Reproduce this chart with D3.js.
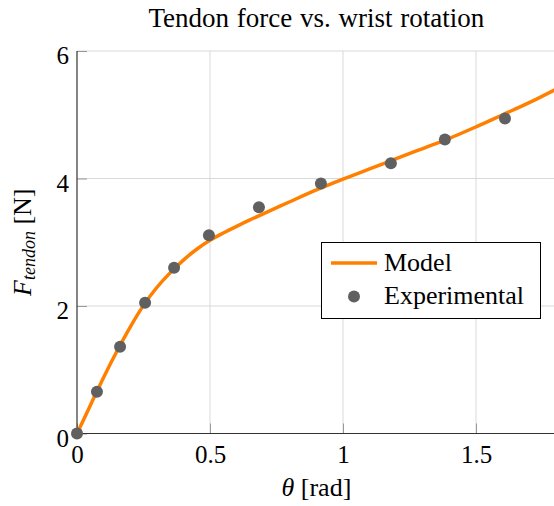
<!DOCTYPE html>
<html>
<head>
<meta charset="utf-8">
<script src="https://cdn.jsdelivr.net/npm/d3@7"></script>
<style>
  body { margin: 0; background: #fff; }
  text { font-family: "Liberation Serif", "Times New Roman", serif; fill: #000; }
</style>
</head>
<body>
<script>
// données
const modelTheta = [0, 0.05, 0.1, 0.15, 0.2, 0.25, 0.3, 0.35, 0.4, 0.45, 0.5, 0.55, 0.6, 0.65, 0.7, 0.8, 0.9, 1.0, 1.1, 1.2, 1.3, 1.4, 1.5, 1.6, 1.7, 1.8];
const modelForce = [0, 0.44, 0.88, 1.29, 1.67, 2.01, 2.29, 2.52, 2.72, 2.89, 3.03, 3.145, 3.25, 3.35, 3.445, 3.635, 3.82, 3.99, 4.15, 4.31, 4.47, 4.63, 4.81, 5.0, 5.19, 5.4];

const expTheta = [0, 0.075, 0.162, 0.256, 0.365, 0.496, 0.684, 0.917, 1.18, 1.383, 1.609];
const expForce = [0, 0.656, 1.36, 2.05, 2.6, 3.11, 3.55, 3.92, 4.24, 4.61, 4.94];

const xTicks = [0, 0.5, 1, 1.5];
const xTickLabels = ["0", "0.5", "1", "1.5"];
const yTicks = [0, 2, 4, 6];

const width = 554, height = 506;
const mLeft = 77, mRight = 555.8, mTop = 51, mBottom = 433.5;
const serif = '"Liberation Serif", "Times New Roman", serif';

let svg = d3.select('body').append('svg')
    .attr("width", width)
    .attr("height", height)

let x = d3.scaleLinear().domain([0, 1.8]).range([mLeft, mRight]);
let y = d3.scaleLinear().domain([0, 6]).range([mBottom, mTop]);

// grille
svg.append('g').selectAll('line')
    .data(xTicks.filter(d => d > 0))
    .enter().append('line')
    .attr("x1", d => x(d)).attr("x2", d => x(d))
    .attr("y1", mTop).attr("y2", mBottom)
    .attr("stroke", "#d9d9d9").attr("stroke-width", 1)

svg.append('g').selectAll('line')
    .data(yTicks.filter(d => d > 0))
    .enter().append('line')
    .attr("x1", mLeft).attr("x2", width)
    .attr("y1", d => y(d)).attr("y2", d => y(d))
    .attr("stroke", "#d9d9d9").attr("stroke-width", 1)

// axes (ticks vers l'intérieur)
let xAxis = d3.axisBottom(x).tickValues(xTicks).tickSize(-10).tickFormat((d, i) => xTickLabels[i]).tickPadding(12);
let gx = svg.append('g')
    .attr("transform", "translate(0," + mBottom + ")")
    .call(xAxis)
gx.select('.domain').remove();
gx.selectAll('.tick line').attr("stroke", "#999");
gx.selectAll('.tick text')
    .style("font-size", "25px")
    .style("font-family", serif)
    .attr("fill", "#000")

let yAxis = d3.axisLeft(y).tickValues(yTicks).tickSize(-10).tickPadding(8).tickFormat(d3.format("d"));
let gy = svg.append('g')
    .attr("transform", "translate(" + mLeft + ",0)")
    .call(yAxis)
gy.select('.domain').remove();
gy.selectAll('.tick line').attr("stroke", "#999");
gy.selectAll('.tick text')
    .style("font-size", "25px")
    .style("font-family", serif)
    .attr("fill", "#000")
    .attr("dy", "0.5em")

svg.append('line')
    .attr("x1", mLeft).attr("x2", width)
    .attr("y1", mBottom).attr("y2", mBottom)
    .attr("stroke", "#333").attr("stroke-width", 1.2)
svg.append('line')
    .attr("x1", mLeft).attr("x2", mLeft)
    .attr("y1", mTop).attr("y2", mBottom)
    .attr("stroke", "#333").attr("stroke-width", 1.2)

// courbe du modèle
let modelData = modelTheta.map((t, i) => [t, modelForce[i]]);
let line = d3.line()
    .x(d => x(d[0]))
    .y(d => y(d[1]))
    .curve(d3.curveCatmullRom);

svg.append('path')
    .datum(modelData)
    .attr("d", line)
    .attr("fill", "none")
    .attr("stroke", "#ff8000")
    .attr("stroke-width", 3.5)

// points expérimentaux
svg.append('g').selectAll('circle')
    .data(expTheta.map((t, i) => [t, expForce[i]]))
    .enter().append('circle')
    .attr("cx", d => x(d[0]))
    .attr("cy", d => y(d[1]))
    .attr("r", 6)
    .attr("fill", "#606060")

// titre et labels
svg.append('text')
    .attr("x", (mLeft + mRight) / 2)
    .attr("y", 27)
    .attr("text-anchor", "middle")
    .attr("font-size", 27)
    .attr("word-spacing", 1)
    .text("Tendon force vs. wrist rotation")

let xl = svg.append('text')
    .attr("x", (mLeft + mRight) / 2)
    .attr("y", 496)
    .attr("text-anchor", "middle")
    .attr("font-size", 26)
xl.append('tspan').attr("font-style", "italic").text("θ");
xl.append('tspan').text(" [rad]");

let yl = svg.append('text')
    .attr("transform", "translate(31," + ((mTop + mBottom) / 2) + ") rotate(-90)")
    .attr("text-anchor", "middle")
    .attr("font-size", 26)
yl.append('tspan').attr("font-style", "italic").text("F");
yl.append('tspan').attr("font-style", "italic").attr("font-size", 18).attr("dy", 4).text("tendon");
yl.append('tspan').attr("dy", -4).text(" [N]");

// légende
let leg = svg.append('g')
leg.append('rect')
    .attr("x", 321.5).attr("y", 242.5)
    .attr("width", 219).attr("height", 76)
    .attr("fill", "#fff").attr("stroke", "#000").attr("stroke-width", 1)
leg.append('line')
    .attr("x1", 331).attr("x2", 377)
    .attr("y1", 263).attr("y2", 263)
    .attr("stroke", "#ff8000").attr("stroke-width", 3.5)
leg.append('circle')
    .attr("cx", 354).attr("cy", 296.5).attr("r", 6)
    .attr("fill", "#606060")
leg.append('text')
    .attr("x", 384).attr("y", 271)
    .attr("font-size", 26)
    .text("Model")
leg.append('text')
    .attr("x", 384).attr("y", 303.5)
    .attr("font-size", 26)
    .text("Experimental")
</script>
</body>
</html>
